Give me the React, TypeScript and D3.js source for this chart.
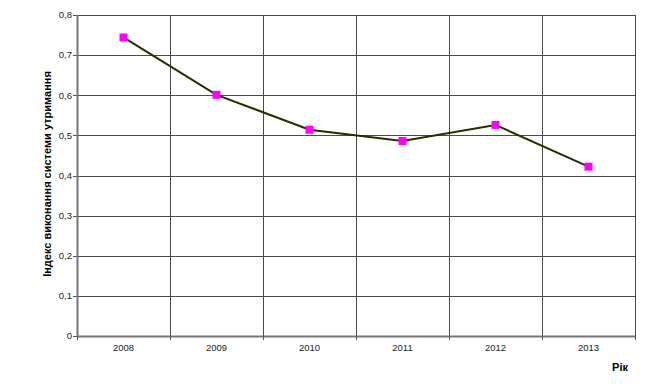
import React from 'react';
import * as d3 from 'd3';

// Data
const years = ['2008', '2009', '2010', '2011', '2012', '2013'];
const indexValues = [0.744, 0.601, 0.514, 0.486, 0.526, 0.422];
const yTicks = [0, 0.1, 0.2, 0.3, 0.4, 0.5, 0.6, 0.7, 0.8];

const width = 654;
const height = 386;
const margin = { top: 15, right: 19, bottom: 50, left: 77 };

const font = '"Liberation Sans", Arial, sans-serif';

export default function App() {
    const x = d3.scaleBand()
        .domain(years)
        .range([margin.left, width - margin.right]);

    const y = d3.scaleLinear()
        .domain([0, 0.8])
        .range([height - margin.bottom, margin.top]);

    const line = d3.line<number>()
        .x((_, i) => x(years[i])! + x.bandwidth() / 2)
        .y(d => y(d));

    const fmt = (v: number) => (v === 0 ? '0' : v.toFixed(1).replace('.', ','));

    const left = margin.left;
    const right = width - margin.right;
    const bottom = height - margin.bottom;
    const boundaries = years.map(yr => x(yr)!).concat([right]);

    return (
        <svg width={width} height={height} style={{ position: 'absolute', left: 0, top: 0, background: '#fff' }}>
            {/* horizontal grid */}
            {yTicks.map(t => (
                <line key={'h' + t} x1={left} x2={right} y1={Math.round(y(t)) + 0.5} y2={Math.round(y(t)) + 0.5}
                    stroke="#4a4a4a" strokeWidth={1} />
            ))}
            {/* vertical grid at category boundaries */}
            {boundaries.map((b, i) => (
                <line key={'v' + i} x1={Math.round(b) + 0.5} x2={Math.round(b) + 0.5} y1={margin.top} y2={bottom}
                    stroke="#4a4a4a" strokeWidth={1} />
            ))}
            {/* axis lines */}
            <line x1={left + 0.5} x2={left + 0.5} y1={margin.top} y2={bottom} stroke="#777" strokeWidth={2} />
            <line x1={left} x2={right} y1={Math.round(bottom) + 0.5} y2={Math.round(bottom) + 0.5} stroke="#777" strokeWidth={2} />
            {/* tick marks */}
            {yTicks.map(t => (
                <line key={'yt' + t} x1={left - 4} x2={left} y1={Math.round(y(t)) + 0.5} y2={Math.round(y(t)) + 0.5}
                    stroke="#555" />
            ))}
            {boundaries.map((b, i) => (
                <line key={'xt' + i} x1={Math.round(b) + 0.5} x2={Math.round(b) + 0.5} y1={bottom} y2={bottom + 4}
                    stroke="#555" />
            ))}
            {/* y tick labels */}
            {yTicks.map(t => (
                <text key={'yl' + t} x={left - 5} y={y(t)} dy="0.35em" textAnchor="end"
                    fontFamily={font} fontSize={9.5} fill="#222">{fmt(t)}</text>
            ))}
            {/* x tick labels */}
            {years.map(yr => (
                <text key={'xl' + yr} x={x(yr)! + x.bandwidth() / 2} y={bottom + 15} textAnchor="middle"
                    fontFamily={font} fontSize={9.5} fill="#222">{yr}</text>
            ))}
            {/* series line */}
            <path d={line(indexValues) || ''} fill="none" stroke="#2b2b00" strokeWidth={2} />
            {indexValues.map((v, i) => (
                <rect key={'m' + i} x={x(years[i])! + x.bandwidth() / 2 - 4} y={y(v) - 4} width={8} height={8}
                    fill="#ff00ff" />
            ))}
            {/* axis titles */}
            <text transform="translate(51,174) rotate(-90)" textAnchor="middle"
                fontFamily={font} fontSize={11} fontWeight="bold" fill="#000">
                Індекс виконання системи утримання
            </text>
            <text x={620} y={371} textAnchor="middle" fontFamily={font} fontSize={11} fontWeight="bold" fill="#000">
                Рік
            </text>
        </svg>
    );
}
